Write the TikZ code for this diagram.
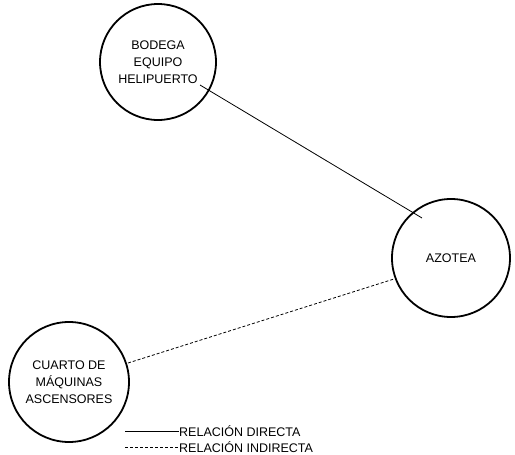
\documentclass[tikz,border=0pt]{standalone}
\usepackage{fontspec}
\setmainfont{Liberation Sans}
\begin{document}
\begin{tikzpicture}[x=1pt,y=-1pt,
  room/.style={circle,draw,line width=1.8pt,minimum size=116pt,inner sep=0pt,align=center,font=\fontsize{12.5}{17}\selectfont},
  link/.style={line width=0.8pt},
  legendtext/.style={anchor=west,inner sep=0pt,font=\fontsize{12.5}{14}\selectfont}]
\useasboundingbox (0,0) rectangle (515,455);
\node[room] (bodega) at (158,62) {BODEGA\\EQUIPO\\HELIPUERTO};
\node[room,minimum size=118pt] (azotea) at (451,258) {AZOTEA};
\node[room,minimum size=120pt] (cuarto) at (69,382) {CUARTO DE\\MÁQUINAS\\ASCENSORES};
\coordinate (b1) at (200,85);
\coordinate (a1) at (422,218);
\coordinate (c1) at (128,363);
\coordinate (a2) at (394,279);
\draw[link] (b1) -- (a1);
\draw[link,dashed,dash pattern=on 3pt off 2pt] (c1) -- (a2);
\node[legendtext] (ld) at (179,431) {RELACIÓN DIRECTA};
\node[legendtext] (li) at (179,447) {RELACIÓN INDIRECTA};
\coordinate (ld0) at (125,431);
\coordinate (li0) at (125,447);
\draw[link] (ld0) -- (ld.west);
\draw[link,dash pattern=on 3pt off 2pt] (li0) -- (li.west);
\end{tikzpicture}
\end{document}
